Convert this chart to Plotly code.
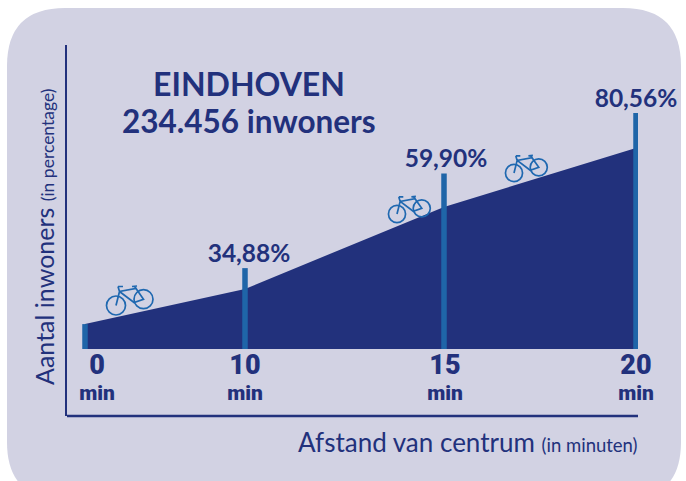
import plotly.graph_objects as go

# ---- data ----
minutes = ["0", "10", "15", "20"]
axis_pos = [0, 160, 359, 551]          # horizontal location of each stop on the drawn axis
tick_pos = [12, 160, 360, 551]
label_pos = [0, 164, 361, 551]
area_height = [8.5, 20.5, 48.5, 68.6]  # filled profile, in the chart's height units
stick_height = [8.5, 27.6, 59.9, 80.56]
stick_labels = ["", "34,88%", "59,90%", "80,56%"]

W, H = 686, 481
L, R, T, B = 67, 638, 45, 416
NAVY = "#22317c"
BLUE = "#1f65a8"
BIKE = "#1f68b0"
BG = "#d2d2e3"
FONT = "Lato"

def px(x):
    return (x - L) / (R - L)

def py(y):
    return (B - y) / (B - T)

def rounded_panel(x0, y0, x1, y1, r):
    pts = [
        f"M{px(x0 + r)},{py(y0)}", f"L{px(x1 - r)},{py(y0)}",
        f"Q{px(x1)},{py(y0)} {px(x1)},{py(y0 + r)}", f"L{px(x1)},{py(y1 - r)}",
        f"Q{px(x1)},{py(y1)} {px(x1 - r)},{py(y1)}", f"L{px(x0 + r)},{py(y1)}",
        f"Q{px(x0)},{py(y1)} {px(x0)},{py(y1 - r)}", f"L{px(x0)},{py(y0 + r)}",
        f"Q{px(x0)},{py(y0)} {px(x0 + r)},{py(y0)}", "Z",
    ]
    return dict(type="path", xref="paper", yref="paper", path=" ".join(pts),
                fillcolor=BG, line_width=0, layer="below")

def bike(cx, cy, s=1.0):
    """Bicycle icon; (cx, cy) is the rear hub in page pixels, s its scale."""
    shapes = []
    def P(a, b):
        return f"{px(cx + a * s):.5f},{py(cy + b * s):.5f}"
    for hx, hy in [(0, 0), (27.5, -6.3)]:
        r = 9.5 * s
        shapes.append(dict(type="circle", xref="paper", yref="paper",
                           x0=px(cx + hx * s - r), x1=px(cx + hx * s + r),
                           y0=py(cy + hy * s + r), y1=py(cy + hy * s - r),
                           line=dict(color=BIKE, width=1.7), fillcolor="rgba(0,0,0,0)"))
    frame = ("M" + P(0, 0) + " L" + P(3.5, -14) + " L" + P(20, -17) + " L" + P(27.5, -6.3)
             + " L" + P(18, -3) + " L" + P(3.5, -14)
             + " M" + P(2, -19) + " L" + P(3.5, -14) + " M" + P(2, -19) + " L" + P(7, -19)
             + " M" + P(16, -19) + " L" + P(21, -19.5) + " M" + P(18.5, -19) + " L" + P(20, -17))
    shapes.append(dict(type="path", xref="paper", yref="paper", path=frame,
                       line=dict(color=BIKE, width=1.7)))
    return shapes

fig = go.Figure()
# filled profile
fig.add_trace(go.Scatter(x=axis_pos, y=area_height, mode="lines", line=dict(width=0),
                         fill="tozeroy", fillcolor=NAVY, hoverinfo="skip", cliponaxis=False))
# vertical sticks drawn above the fill
stick_x, stick_y = [], []
for p, h in zip(axis_pos, stick_height):
    stick_x += [p, p, None]
    stick_y += [0, h, None]
fig.add_trace(go.Scatter(x=stick_x, y=stick_y, mode="lines",
                         line=dict(color=BLUE, width=5.5), hoverinfo="skip", cliponaxis=False))
fig.add_trace(go.Scatter(x=label_pos, y=stick_height, mode="text",
                         text=stick_labels, textposition="top center", cliponaxis=False,
                         textfont=dict(family=FONT, size=24.5, color=NAVY, weight="bold"),
                         hoverinfo="skip"))

tick_text = [f'<span style="font-size:27px">{m}</span><br><span style="font-size:21px">min</span>'
             for m in minutes]

shapes = [rounded_panel(7, 8, 681, 500, 58)]
shapes.append(dict(type="line", xref="paper", yref="paper", x0=0, x1=1, y0=0, y1=0,
                   line=dict(color=NAVY, width=2.5)))
for hub in [(116, 305.5, 1.0), (397, 214, 0.9), (514, 173, 0.9)]:
    shapes += bike(*hub)

def note(text, x, y, size, bold=False, angle=0, color=NAVY, anchor="center"):
    return dict(text=text, xref="paper", yref="paper", x=px(x), y=py(y), showarrow=False,
                xanchor=anchor, yanchor="middle", textangle=angle,
                font=dict(family=FONT, size=size, color=color, weight="bold" if bold else "normal"))

annotations = [
    note("EINDHOVEN", 249, 84, 32, True),
    note("234.456 inwoners", 249, 121, 31.5, True),
    note('Aantal inwoners <span style="font-size:17.5px">(in percentage)</span>', 44, 237, 25, angle=-90),
    note('Afstand van centrum <span style="font-size:18.5px">(in minuten)</span>', 468, 442, 26),
]

fig.update_layout(
    width=W, height=H, autosize=False,
    margin=dict(l=L, r=W - R, t=T, b=H - B, pad=0),
    paper_bgcolor="white", plot_bgcolor="rgba(0,0,0,0)",
    showlegend=False,
    shapes=shapes, annotations=annotations,
    xaxis=dict(range=[-18, 553], anchor="free", position=(B - 349) / (B - T),
               tickmode="array", tickvals=tick_pos, ticktext=tick_text,
               showgrid=False, zeroline=False, showline=False, ticks="", ticklabelstandoff=4,
               tickfont=dict(family="Roboto", size=20, color=NAVY, weight=900),
               tickangle=0, fixedrange=True),
    yaxis=dict(range=[-22.87, 103.75], showgrid=False, zeroline=False, showticklabels=False,
               showline=True, linecolor=NAVY, linewidth=2, ticks="", fixedrange=True),
)
fig.write_html("out.html", config={"displayModeBar": False},
               post_script="document.body.style.margin='0';document.documentElement.style.overflow='hidden';")
